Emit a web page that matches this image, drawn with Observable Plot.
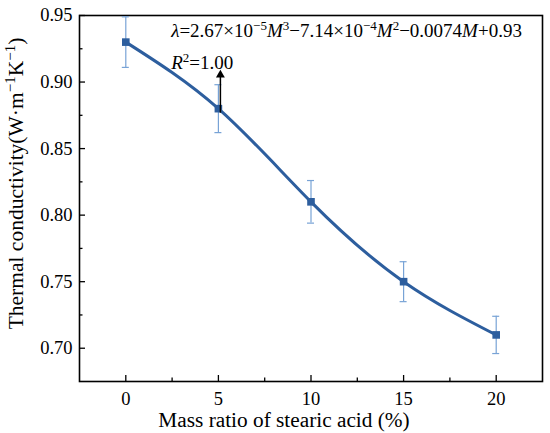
<!DOCTYPE html>
<html>
<head>
<meta charset="utf-8">
<script src="https://cdn.jsdelivr.net/npm/d3@7"></script>
<script src="https://cdn.jsdelivr.net/npm/@observablehq/plot@0.6"></script>
<style>
  html, body { margin: 0; padding: 0; background: #fff; }
</style>
</head>
<body>
<div id="chart"></div>
<script>
// ---- data ----
const massRatio = [0, 5, 10, 15, 20];
const conductivity = [0.93, 0.88, 0.81, 0.75, 0.71];
const errLow = [0.911, 0.862, 0.794, 0.735, 0.696];
const errHigh = [0.949, 0.898, 0.826, 0.765, 0.724];
const xTicks = [0, 5, 10, 15, 20];
const xMinorTicks = [2.5, 7.5, 12.5, 17.5];
const yTicks = [0.70, 0.75, 0.80, 0.85, 0.90, 0.95];
const yMinorTicks = [0.725, 0.775, 0.825, 0.875, 0.925];
const arrowFrom = [5, 0.880];
const arrowTo = [5, 0.9095];
const equationPos = [2.45, 0.9335];
const r2Pos = [2.45, 0.9095];
const xLabel = "Mass ratio of stearic acid (%)";
const yLabel = "Thermal conductivity(W·m-1K-1)";

const rows = massRatio.map((m, i) => ({m, k: conductivity[i], lo: errLow[i], hi: errHigh[i]}));

const lineColor = "#2d5e9e";
const errColor = "#78a3d6";
const font = "'Liberation Serif', serif";

const chart = Plot.plot({
  width: 550,
  height: 433,
  marginLeft: 79,
  marginRight: 8,
  marginTop: 15,
  marginBottom: 52,
  style: {fontFamily: font, fontSize: "18px", color: "black", background: "white"},
  x: {domain: [-2.5, 22.5]},
  y: {domain: [0.675, 0.95]},
  marks: [
    // tick labels
    Plot.axisX(xTicks, {tickSize: 0, tickPadding: 10, tickFormat: d => d, label: null, fontSize: 18.5}),
    Plot.axisY(yTicks, {tickSize: 0, tickPadding: 7, tickFormat: d => d.toFixed(2), label: null, fontSize: 18.5}),
    // inward ticks
    Plot.axisX(xTicks, {tickSize: -6, tickFormat: () => "", label: null, strokeWidth: 1.3}),
    Plot.axisX(xMinorTicks, {tickSize: -3.5, tickFormat: () => "", label: null, strokeWidth: 1.3}),
    Plot.axisY(yTicks, {tickSize: -6, tickFormat: () => "", label: null, strokeWidth: 1.3}),
    Plot.axisY(yMinorTicks, {tickSize: -3.5, tickFormat: () => "", label: null, strokeWidth: 1.3}),
    Plot.frame({stroke: "black", strokeWidth: 1.6}),
    // error bars
    Plot.ruleX(rows, {x: "m", y1: "lo", y2: "hi", stroke: errColor, strokeWidth: 1.2}),
    Plot.ruleY(rows, {y: "lo", x1: "m", x2: "m", insetLeft: -3.5, insetRight: -3.5, stroke: errColor, strokeWidth: 1.2}),
    Plot.ruleY(rows, {y: "hi", x1: "m", x2: "m", insetLeft: -3.5, insetRight: -3.5, stroke: errColor, strokeWidth: 1.2}),
    // fitted curve
    Plot.line(rows, {x: "m", y: "k", curve: "natural", stroke: lineColor, strokeWidth: 3}),
    Plot.dot(rows, {x: "m", y: "k", symbol: "square", r: 4.3, fill: lineColor, stroke: "none"}),
    // arrow (shaft + filled head)
    Plot.link([{x1: arrowFrom[0], y1: arrowFrom[1], x2: arrowTo[0], y2: arrowTo[1]}],
      {x1: "x1", y1: "y1", x2: "x2", y2: "y2", dx: 2, dy: 4, stroke: "black", strokeWidth: 1.5}),
    Plot.dot([{x: arrowTo[0], y: arrowTo[1]}],
      {x: "x", y: "y", dx: 2, dy: 5.5, symbol: "triangle", r: 3.3, fill: "black", stroke: "none"}),
    // annotations
    Plot.text(["EQ"], {x: equationPos[0], y: equationPos[1], text: d => d, textAnchor: "start", lineAnchor: "bottom", fontSize: 19}),
    Plot.text(["R2"], {x: r2Pos[0], y: r2Pos[1], text: d => d, textAnchor: "start", lineAnchor: "bottom", fontSize: 19}),
    // axis titles
    Plot.text([xLabel], {frameAnchor: "bottom", text: d => d, textAnchor: "middle", dx: -27, dy: 45, lineAnchor: "bottom", fontSize: 21.3}),
    Plot.text(["YT"], {frameAnchor: "left", text: d => d, textAnchor: "middle", rotate: -90, dx: -63, dy: -15, lineAnchor: "middle", fontSize: 21.5})
  ]
});

document.getElementById("chart").appendChild(chart);

// rich text for annotations (italic symbols, superscripts)
function rich(textEl, parts, supSize, supShift) {
  const t = d3.select(textEl);
  t.text(null);
  let shift = 0;
  for (const p of parts) {
    const span = t.append("tspan").text(p.s);
    if (p.i) span.attr("font-style", "italic");
    if (p.sup) {
      span.attr("font-size", supSize + "px").attr("dy", -supShift - shift);
      shift = -supShift;
    } else {
      if (shift !== 0) span.attr("dy", -shift);
      shift = 0;
    }
  }
}
d3.select(chart).selectAll("text").each(function() {
  const s = this.textContent;
  if (s === "EQ") {
    rich(this, [
      {s: "λ", i: true}, {s: "=2.67×10"}, {s: "−5", sup: true}, {s: "M", i: true}, {s: "3", sup: true},
      {s: "−7.14×10"}, {s: "−4", sup: true}, {s: "M", i: true}, {s: "2", sup: true},
      {s: "−0.0074"}, {s: "M", i: true}, {s: "+0.93"}
    ], 13, 7);
  } else if (s === "R2") {
    rich(this, [{s: "R", i: true}, {s: "2", sup: true}, {s: "=1.00"}], 13, 7);
  } else if (s === "YT") {
    const [main] = yLabel.split("m-1");
    rich(this, [
      {s: main + "m"}, {s: "−1", sup: true}, {s: "K"}, {s: "−1", sup: true}, {s: ")"}
    ], 15, 8);
  }
});
</script>
</body>
</html>
